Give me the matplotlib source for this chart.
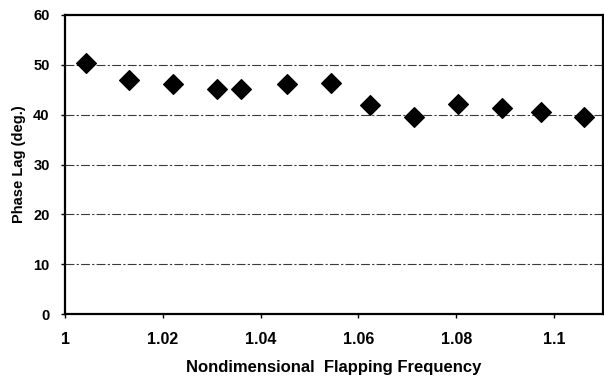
import matplotlib
matplotlib.use("Agg")
import matplotlib.pyplot as plt

# Measured phase lag versus nondimensional flapping frequency
frequency = [1.0043, 1.0131, 1.0220, 1.0310, 1.0360, 1.0453, 1.0543,
             1.0624, 1.0714, 1.0804, 1.0893, 1.0974, 1.1062]
phase_lag = [50.4, 47.0, 46.2, 45.2, 45.2, 46.2, 46.3,
             41.9, 39.5, 42.1, 41.3, 40.5, 39.5]

x_ticks = [1.0, 1.02, 1.04, 1.06, 1.08, 1.1]
x_tick_labels = ["1", "1.02", "1.04", "1.06", "1.08", "1.1"]
y_ticks = [0, 10, 20, 30, 40, 50, 60]

plt.rcParams["font.family"] = ["Liberation Sans", "DejaVu Sans"]

fig = plt.figure(figsize=(6.04, 3.82), dpi=100)
ax = fig.add_axes([65 / 604, 1 - 314 / 382, (603 - 65) / 604, (314 - 15) / 382])

ax.set_xlim(1.0, 1.11)
ax.set_ylim(0, 60)

for y in y_ticks[1:-1]:
    ax.axhline(y, color="#3a3a3a", lw=0.8, ls=(0, (8, 2, 2, 2)), zorder=1)

ax.scatter(frequency, phase_lag, marker="D", s=100, color="black",
           edgecolors="black", zorder=3)

ax.set_xticks(x_ticks)
ax.set_xticklabels(x_tick_labels, fontsize=11.5, fontweight="bold")
ax.set_yticks(y_ticks)
ax.set_yticklabels([str(v) for v in y_ticks], fontsize=10.5, fontweight="bold")

ax.tick_params(axis="x", direction="out", length=3, width=1, pad=10)
ax.tick_params(axis="y", direction="out", length=3, width=1, pad=8)

for side in ["left", "bottom", "top", "right"]:
    ax.spines[side].set_linewidth(1.6)
    ax.spines[side].set_color("black")

ax.set_xlabel("Nondimensional  Flapping Frequency", fontsize=12,
              fontweight="bold", labelpad=9)
ax.set_ylabel("Phase Lag (deg.)", fontsize=10.5, fontweight="bold", labelpad=5)

fig.savefig("out.png", dpi=100)
